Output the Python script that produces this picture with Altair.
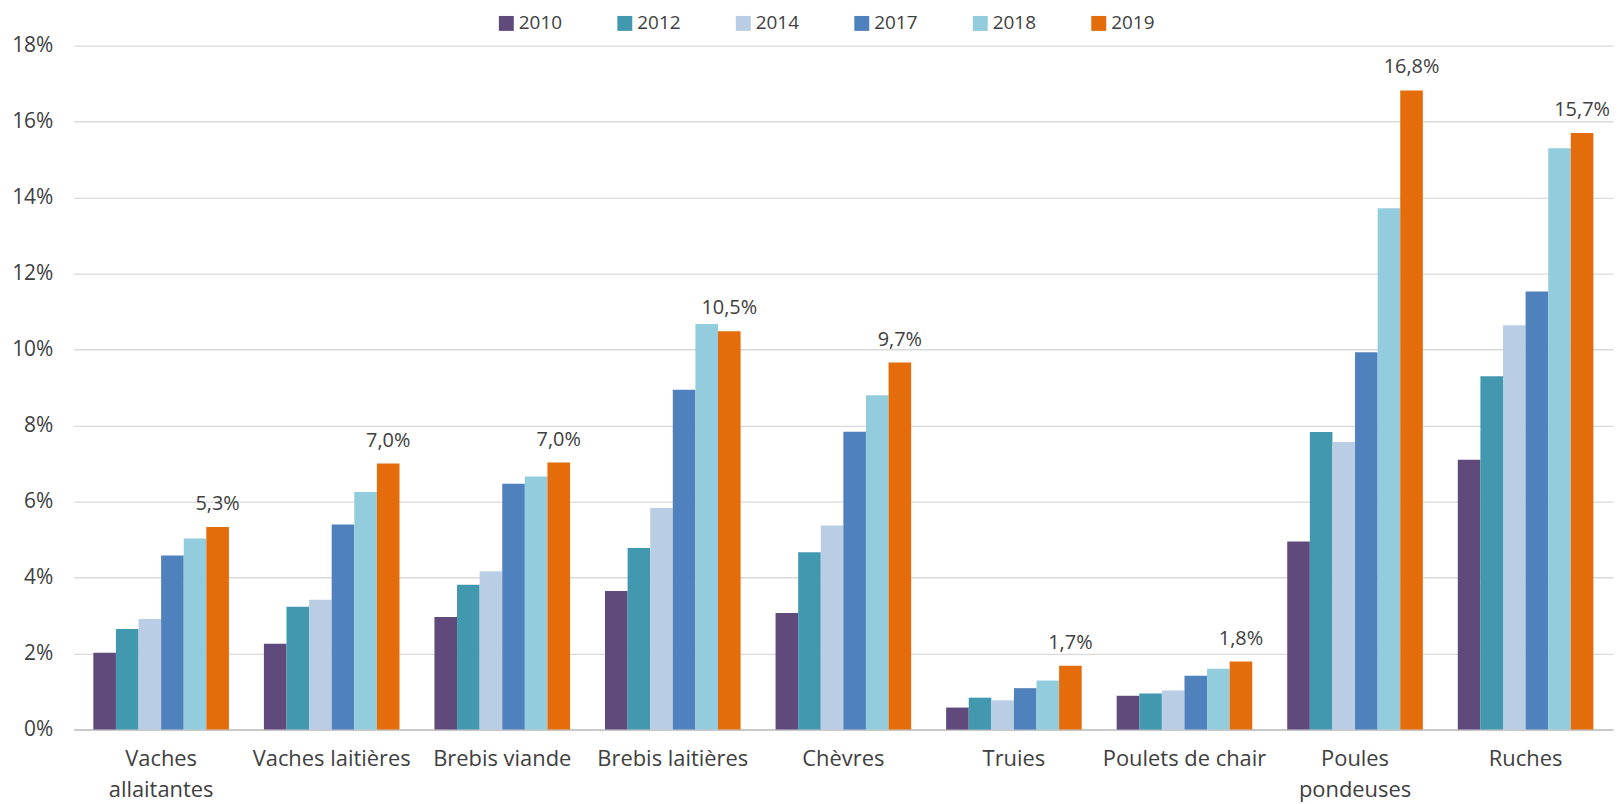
import altair as alt
import pandas as pd

categories = ["Vaches allaitantes", "Vaches laitières", "Brebis viande", "Brebis laitières",
              "Chèvres", "Truies", "Poulets de chair", "Poules pondeuses", "Ruches"]
years = ["2010", "2012", "2014", "2017", "2018", "2019"]
v2010 = [2.02, 2.26, 2.96, 3.65, 3.07, 0.58, 0.89, 4.95, 7.10]
v2012 = [2.65, 3.23, 3.81, 4.78, 4.67, 0.84, 0.95, 7.83, 9.30]
v2014 = [2.91, 3.42, 4.17, 5.83, 5.37, 0.77, 1.03, 7.57, 10.64]
v2017 = [4.58, 5.40, 6.47, 8.94, 7.84, 1.09, 1.42, 9.93, 11.53]
v2018 = [5.03, 6.25, 6.66, 10.67, 8.80, 1.29, 1.60, 13.72, 15.30]
v2019 = [5.33, 7.00, 7.03, 10.48, 9.66, 1.68, 1.79, 16.82, 15.70]
colors = ["#604A7B", "#4198AF", "#B9CDE5", "#4F81BD", "#93CDDD", "#E46C0A"]

series = [v2010, v2012, v2014, v2017, v2018, v2019]
rows = []
for yr, vals in zip(years, series):
    for c, v in zip(categories, vals):
        rows.append({"category": c, "year": yr, "value": v})
df = pd.DataFrame(rows)

label_expr = ("datum.label == 'Vaches allaitantes' ? ['Vaches', 'allaitantes'] : "
              "datum.label == 'Poules pondeuses' ? ['Poules', 'pondeuses'] : datum.label")

x = alt.X("category:N", sort=categories,
          scale=alt.Scale(paddingInner=0.205, paddingOuter=0.115),
          axis=alt.Axis(title=None, labelAngle=0, labelExpr=label_expr,
                        domainColor="#BFBFBF", domainWidth=1.5, ticks=False,
                        labelPadding=19, labelFontSize=22, labelColor="#404040",
                        labelFont="Open Sans", labelLineHeight=31, labelLimit=300))
y = alt.Y("value:Q", scale=alt.Scale(domain=[0, 18]),
          axis=alt.Axis(title=None, values=list(range(0, 19, 2)),
                        labelExpr="datum.value + '%'", grid=True,
                        gridColor="#D9D9D9", gridWidth=1.3, domain=False, ticks=False,
                        labelPadding=21, labelFontSize=21, labelColor="#404040",
                        labelFont="Open Sans"))
xo = alt.XOffset("year:N", sort=years, scale=alt.Scale(paddingInner=0, paddingOuter=0))

base = alt.Chart(df)

bars = base.mark_bar().encode(
    x=x, xOffset=xo, y=y,
    color=alt.Color("year:N", sort=years, scale=alt.Scale(domain=years, range=colors),
                    legend=alt.Legend(title=None, orient="none", legendX=425, legendY=-32,
                                      direction="horizontal", symbolType="square",
                                      symbolSize=225, symbolStrokeWidth=0,
                                      labelOffset=3, columnPadding=53, labelFontSize=19,
                                      labelColor="#404040", labelFont="Open Sans")),
)

text = base.transform_filter("datum.year == '2019'").transform_calculate(
    lbl="replace(format(datum.value, '.1f'), '.', ',') + '%'"
).mark_text(dy=-17, baseline="alphabetic", fontSize=20, color="#404040",
            font="Open Sans").encode(x=x, xOffset=xo, y=y, text="lbl:N")

chart = alt.layer(bars, text).properties(
    width=1546, height=687,
    padding={"left": 66, "top": 36, "right": 2, "bottom": 73},
    autosize=alt.AutoSizeParams(type="none"),
    background="white",
).configure_view(stroke=None)

chart.save("out.html", embed_options={"renderer": "svg", "actions": False})
